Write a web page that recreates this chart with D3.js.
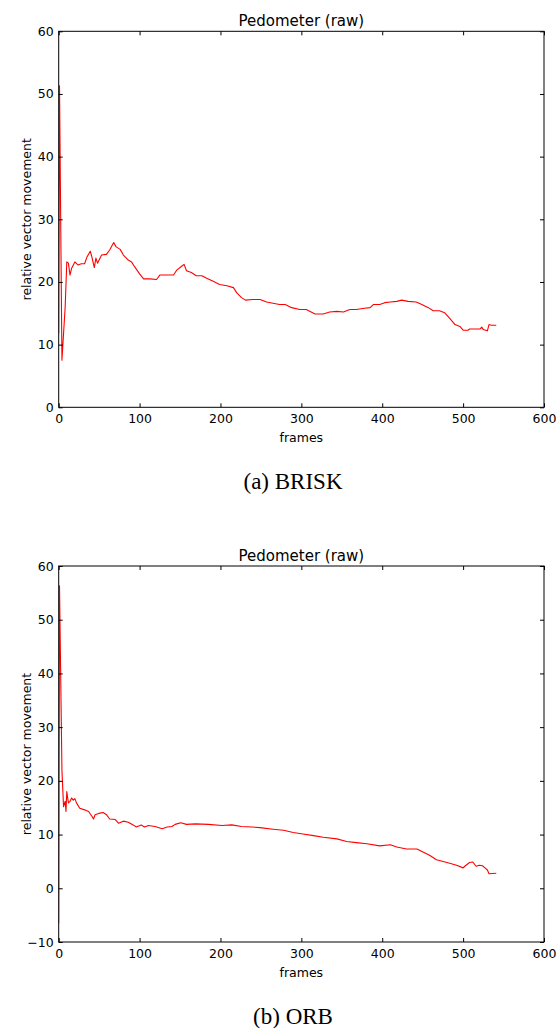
<!DOCTYPE html>
<html>
<head>
<meta charset="utf-8">
<script src="https://cdn.jsdelivr.net/npm/d3@7"></script>
<style>
    body { margin: 0; background: white; }
    svg text { font-family: "DejaVu Sans", sans-serif; fill: black; }
    .caption { font-family: "Liberation Serif", "Times New Roman", serif !important; }
</style>
</head>
<body>
<div id="chart"></div>
<script>
// values (frame, relative vector movement)
const briskFrames = [0, 1, 4, 8, 10, 12, 14, 16, 20, 24, 28, 32, 35, 39, 41, 44, 46, 48, 53, 59, 63, 68, 71, 76, 80, 86, 90, 94, 100, 105, 113, 121, 125, 133, 142, 146, 152, 155, 158, 164, 170, 177, 183, 191, 199, 208, 216, 220, 226, 231, 240, 249, 257, 265, 273, 280, 288, 298, 306, 317, 327, 335, 344, 352, 360, 368, 378, 385, 389, 397, 403, 410, 418, 424, 432, 442, 449, 457, 463, 471, 477, 484, 490, 496, 500, 506, 508, 521, 523, 525, 530, 532, 535, 541]
const briskValues = [11.8, 51.3, 7.5, 16, 23.2, 23, 21.1, 22.2, 23.2, 22.7, 22.9, 22.9, 24, 24.9, 24, 22.3, 23.8, 23, 24.3, 24.4, 25.1, 26.3, 25.6, 25.2, 24.3, 23.5, 23.2, 22.4, 21.3, 20.5, 20.5, 20.4, 21.1, 21.1, 21.1, 21.9, 22.5, 22.8, 21.8, 21.5, 21, 21, 20.6, 20.1, 19.6, 19.4, 19.1, 18.3, 17.5, 17.1, 17.2, 17.2, 16.8, 16.6, 16.4, 16.4, 15.9, 15.6, 15.6, 14.9, 14.9, 15.2, 15.3, 15.2, 15.6, 15.6, 15.8, 15.9, 16.4, 16.4, 16.7, 16.8, 16.9, 17.1, 16.9, 16.8, 16.4, 15.9, 15.4, 15.4, 15.1, 14.1, 13.2, 12.9, 12.3, 12.3, 12.5, 12.5, 12.8, 12.4, 12.2, 13.2, 13.1, 13.1]

const orbFrames = [0, 1, 4, 6, 8, 9, 10, 12, 14, 16, 18, 20, 22, 26, 32, 37, 41, 43, 45, 51, 55, 59, 63, 70, 74, 80, 86, 92, 96, 102, 106, 111, 119, 128, 134, 140, 144, 151, 158, 169, 185, 202, 214, 226, 239, 249, 265, 278, 290, 302, 315, 327, 344, 356, 368, 381, 397, 410, 418, 430, 443, 451, 459, 467, 480, 492, 500, 502, 508, 512, 516, 520, 524, 527, 530, 532, 541]
const orbValues = [-6.5, 56.3, 22, 15.2, 16.2, 14.3, 18, 15.9, 16.2, 16.8, 16.4, 16.7, 15.9, 14.9, 14.6, 14.3, 13.4, 12.9, 13.7, 14.0, 14.1, 13.7, 12.9, 12.8, 12.1, 12.5, 12.3, 11.8, 11.4, 11.8, 11.4, 11.7, 11.5, 11.1, 11.4, 11.5, 11.9, 12.2, 11.9, 12.0, 11.9, 11.7, 11.8, 11.5, 11.4, 11.3, 11.0, 10.8, 10.4, 10.1, 9.8, 9.5, 9.2, 8.7, 8.5, 8.3, 7.9, 8.1, 7.7, 7.3, 7.3, 6.7, 6.1, 5.3, 4.8, 4.3, 3.8, 4.1, 4.8, 4.9, 4.1, 4.3, 4.2, 3.8, 3.4, 2.7, 2.8]

const xTicks = [0, 100, 200, 300, 400, 500, 600]
const briskYTicks = [0, 10, 20, 30, 40, 50, 60]
const orbYTicks = [-10, 0, 10, 20, 30, 40, 50, 60]

const chartTitle = "Pedometer (raw)"
const xLabel = "frames"
const yLabel = "relative vector movement"

const W = 556, H = 1028
const plotLeft = 58.7, plotWidth = 485.3, plotHeight = 376

const svg = d3.select("#chart").append("svg")
    .attr("width", W)
    .attr("height", H)

svg.append("rect").attr("width", W).attr("height", H).attr("fill", "white")

function drawPanel(top, frames, values, yTicks, caption, id) {
    const data = frames.map((f, i) => ({frame: f, value: values[i]}))

    const x = d3.scaleLinear().domain([0, 600]).range([0, plotWidth])
    const y = d3.scaleLinear().domain([yTicks[0], yTicks[yTicks.length - 1]]).range([plotHeight, 0])

    const g = svg.append("g").attr("transform", `translate(${plotLeft},${top})`)

    g.append("clipPath").attr("id", id)
        .append("rect").attr("width", plotWidth).attr("height", plotHeight)

    // the line itself
    g.append("path")
        .datum(data)
        .attr("clip-path", `url(#${id})`)
        .attr("fill", "none")
        .attr("stroke", "#ff0000")
        .attr("stroke-width", 1.1)
        .attr("stroke-linejoin", "round")
        .attr("d", d3.line().x(d => x(d.frame)).y(d => y(d.value)))

    // axes, ticks pointing inwards like matplotlib classic
    const bottom = g.append("g")
        .attr("transform", `translate(0,${plotHeight})`)
        .call(d3.axisBottom(x).tickValues(xTicks).tickSizeInner(-4).tickSizeOuter(0).tickPadding(7))
    const left = g.append("g")
        .call(d3.axisLeft(y).tickValues(yTicks).tickSizeInner(-4).tickSizeOuter(0).tickPadding(5))
    const topAx = g.append("g")
        .call(d3.axisTop(x).tickValues(xTicks).tickSizeInner(-4).tickSizeOuter(0).tickFormat(""))
    const rightAx = g.append("g")
        .attr("transform", `translate(${plotWidth},0)`)
        .call(d3.axisRight(y).tickValues(yTicks).tickSizeInner(-4).tickSizeOuter(0).tickFormat(""))

    for (const ax of [bottom, left, topAx, rightAx]) {
        ax.select(".domain").remove()
        ax.selectAll("line").attr("stroke", "black")
        ax.selectAll("text")
            .style("font-family", "DejaVu Sans")
            .style("font-size", "12.5px")
            .attr("fill", "black")
    }

    g.append("rect")
        .attr("width", plotWidth)
        .attr("height", plotHeight)
        .attr("fill", "none")
        .attr("stroke", "black")
        .attr("stroke-width", 1)

    g.append("text")
        .attr("x", plotWidth / 2)
        .attr("y", -5.5)
        .attr("text-anchor", "middle")
        .style("font-size", "15px")
        .text(chartTitle)

    g.append("text")
        .attr("x", plotWidth / 2)
        .attr("y", plotHeight + 35)
        .attr("text-anchor", "middle")
        .style("font-size", "12.5px")
        .text(xLabel)

    g.append("text")
        .attr("transform", `translate(${31 - plotLeft},${plotHeight / 2}) rotate(-90)`)
        .attr("text-anchor", "middle")
        .style("font-size", "12.5px")
        .text(yLabel)

    svg.append("text")
        .attr("class", "caption")
        .attr("x", 293)
        .attr("y", top + plotHeight + 82)
        .attr("text-anchor", "middle")
        .style("font-size", "23px")
        .text(caption)
}

drawPanel(31.3, briskFrames, briskValues, briskYTicks, "(a) BRISK", "clip-a")
drawPanel(566, orbFrames, orbValues, orbYTicks, "(b) ORB", "clip-b")
</script>
</body>
</html>
